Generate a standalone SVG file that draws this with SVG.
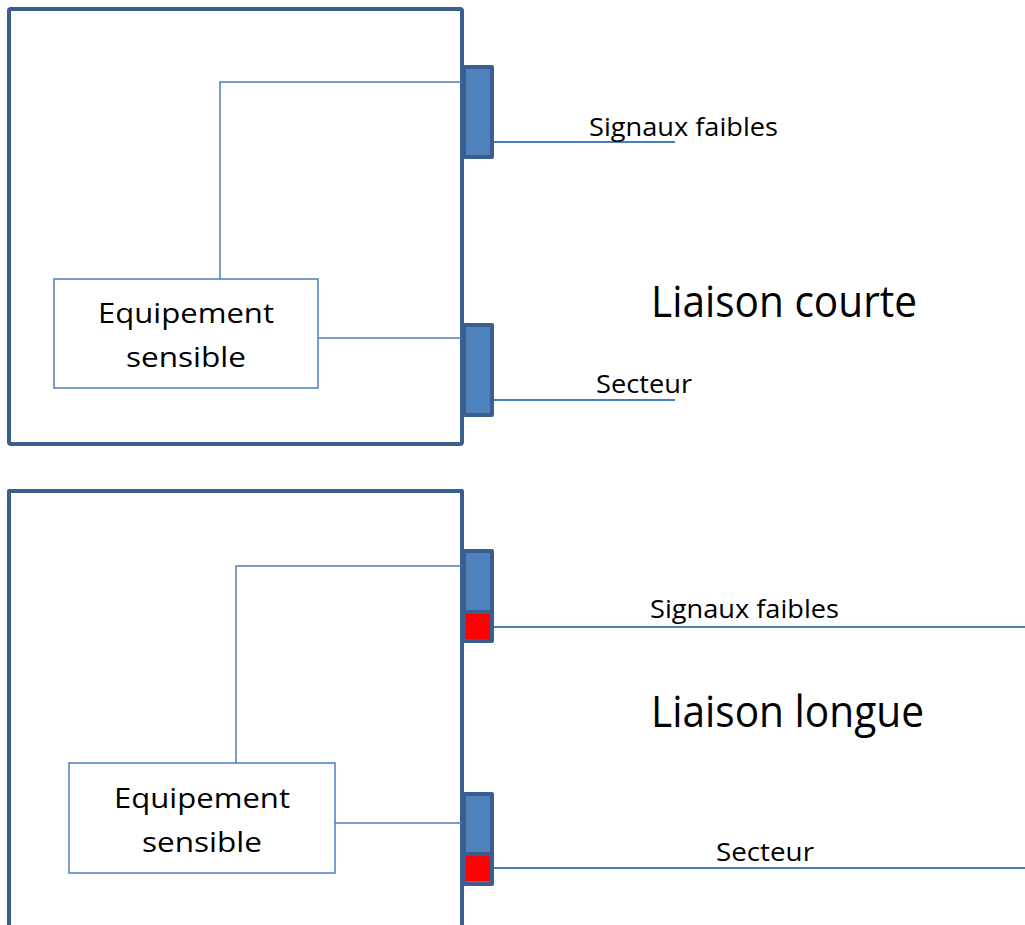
<svg xmlns="http://www.w3.org/2000/svg" width="1025" height="925" viewBox="0 0 1025 925">
  <style>
    .case { fill: none; stroke: #3A5F8E; stroke-width: 4; stroke-linejoin: round; }
    .plug { fill: #4F81BD; stroke: #3A5F8E; stroke-width: 4; stroke-linejoin: round; }
    .filter { fill: #FF0000; stroke: none; }
    .equip { fill: #FFFFFF; stroke: #4A7EBB; stroke-width: 1.5; }
    .wire { fill: none; stroke: #4A7EBB; stroke-width: 2; }
    .wire-thin { fill: none; stroke: #4A7EBB; stroke-width: 1.5; }
    text { font-family: "Open Sans", "Noto Sans", "Liberation Sans", sans-serif; fill: #000000; }
    .eq { font-size: 28px; text-anchor: middle; }
    .lbl { font-size: 26px; }
    .title { font-size: 43px; }
  </style>

  <!-- short link: enclosure -->
  <g id="enclosure-short">
    <rect class="case" x="9" y="9" width="453" height="435" rx="2"/>
  </g>
  <!-- long link: enclosure, running past the lower edge -->
  <g id="enclosure-long">
    <path class="case" d="M9,930 V491 H462 V930"/>
  </g>

  <!-- connectors -->
  <g id="connectors">
    <polyline class="wire-thin" points="220,279 220,82 462,82"/>
    <line class="wire-thin" x1="318" y1="338" x2="462" y2="338"/>
    <line class="wire" x1="494" y1="142" x2="675" y2="142"/>
    <line class="wire" x1="494" y1="400" x2="675" y2="400"/>

    <polyline class="wire-thin" points="236,763 236,566 462,566"/>
    <line class="wire-thin" x1="335" y1="823" x2="462" y2="823"/>
    <line class="wire" x1="494" y1="627" x2="1025" y2="627"/>
    <line class="wire" x1="494" y1="868" x2="1025" y2="868"/>
  </g>

  <!-- feed-through ports, short link -->
  <g id="port-signal-short">
    <rect class="plug" x="464" y="67" width="28" height="90"/>
  </g>
  <g id="port-mains-short">
    <rect class="plug" x="464" y="325" width="28" height="90"/>
  </g>

  <!-- feed-through ports with filters, long link -->
  <g id="port-signal-long">
    <rect class="plug" x="464" y="551" width="28" height="90"/>
    <line stroke="#3A5F8E" stroke-width="4" x1="464" y1="612" x2="492" y2="612"/>
    <rect class="filter" x="466" y="614" width="24" height="25"/>
  </g>
  <g id="port-mains-long">
    <rect class="plug" x="464" y="794" width="28" height="90"/>
    <line stroke="#3A5F8E" stroke-width="4" x1="464" y1="854" x2="492" y2="854"/>
    <rect class="filter" x="466" y="856" width="24" height="25"/>
  </g>

  <!-- sensitive equipment -->
  <g id="equipment-short">
    <rect class="equip" x="54" y="279" width="264" height="109"/>
    <text class="eq" x="186" y="323" textLength="176" lengthAdjust="spacingAndGlyphs">Equipement</text>
    <text class="eq" x="186" y="367" textLength="120" lengthAdjust="spacingAndGlyphs">sensible</text>
  </g>
  <g id="equipment-long">
    <rect class="equip" x="69" y="763" width="266" height="110"/>
    <text class="eq" x="202" y="808" textLength="176" lengthAdjust="spacingAndGlyphs">Equipement</text>
    <text class="eq" x="202" y="852" textLength="120" lengthAdjust="spacingAndGlyphs">sensible</text>
  </g>

  <!-- labels -->
  <g id="labels">
    <text class="lbl" x="589" y="136" textLength="189" lengthAdjust="spacingAndGlyphs">Signaux faibles</text>
    <text class="lbl" x="596" y="393" textLength="96" lengthAdjust="spacingAndGlyphs">Secteur</text>
    <text class="title" x="651" y="317" textLength="266" lengthAdjust="spacingAndGlyphs">Liaison courte</text>

    <text class="lbl" x="650" y="618" textLength="189" lengthAdjust="spacingAndGlyphs">Signaux faibles</text>
    <text class="lbl" x="716" y="861" textLength="98" lengthAdjust="spacingAndGlyphs">Secteur</text>
    <text class="title" x="651" y="727" textLength="273" lengthAdjust="spacingAndGlyphs">Liaison longue</text>
  </g>
</svg>
